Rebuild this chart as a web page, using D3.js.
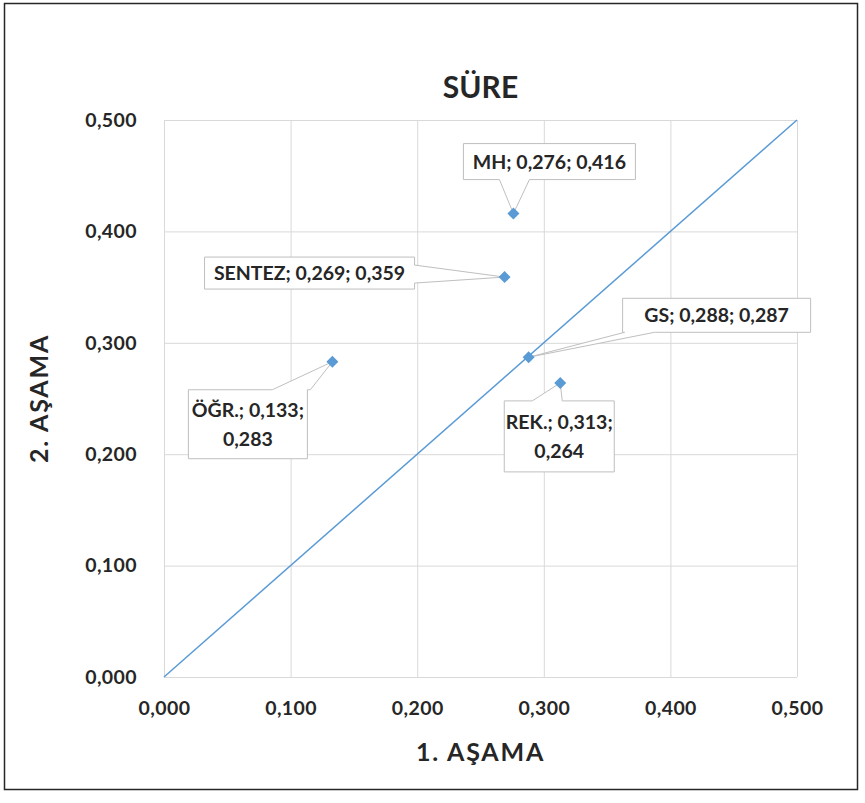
<!DOCTYPE html>
<html>
<head>
<meta charset="utf-8">
<script src="https://cdn.jsdelivr.net/npm/d3@7"></script>
<style>
  html, body { margin: 0; padding: 0; background: #fff; }
  svg { display: block; }
  text { font-family: Lato, "Open Sans", sans-serif; font-weight: 700; }
</style>
</head>
<body>
<svg id="chart" width="865" height="803"></svg>
<script>
// Series: label, 1. AŞAMA (x), 2. AŞAMA (y)
const names   = ["MH", "SENTEZ", "GS", "ÖĞR.", "REK."];
const stage1  = [0.276, 0.269, 0.288, 0.133, 0.313];
const stage2  = [0.416, 0.359, 0.287, 0.283, 0.264];

// Reference diagonal (x = y)
const diagX = [0, 0.5];
const diagY = [0, 0.5];

// Axis ticks
const tickValues = [0, 0.1, 0.2, 0.3, 0.4, 0.5];
const tickLabels = ["0,000", "0,100", "0,200", "0,300", "0,400", "0,500"];

// Text lines of each callout
const labelLines = [
  ["MH; 0,276; 0,416"],
  ["SENTEZ; 0,269; 0,359"],
  ["GS; 0,288; 0,287"],
  ["ÖĞR.; 0,133;", "0,283"],
  ["REK.; 0,313;", "0,264"]
];

// Callout placement: box offset from the point (dx, dy = box top-left), box size,
// side carrying the pointer and pointer base along that side (pixels from side start)
const callouts = [
  { dx: -50,  dy: -70, w: 172, h: 36, side: "bottom", a: 36,  b: 66 },
  { dx: -300, dy: -20, w: 210, h: 32, side: "right",  a: 8,   b: 26 },
  { dx: 94,   dy: -59, w: 188, h: 34, side: "bottom", a: 2,   b: 32 },
  { dx: -144, dy: 28,  w: 119, h: 69, side: "top",    a: 84,  b: 122 },
  { dx: -56,  dy: 18,  w: 110, h: 71, side: "top",    a: 28,  b: 58 }
];

const svg = d3.select("#chart");
const plotLeft = 164, plotRight = 797, plotTop = 120, plotBottom = 677;

// Outer frame
svg.append("rect")
  .attr("x", 4.5).attr("y", 3.5)
  .attr("width", 853).attr("height", 786)
  .attr("fill", "#fff").attr("stroke", "#262626").attr("stroke-width", 1.5);

const x = d3.scaleLinear().domain([0, 0.5]).range([plotLeft, plotRight]);
const y = d3.scaleLinear().domain([0, 0.5]).range([plotBottom, plotTop]);
const fmt = d => tickLabels[tickValues.indexOf(d)];

// Gridlines + axes
const gx = svg.append("g")
  .attr("transform", `translate(0,${plotBottom})`)
  .call(d3.axisBottom(x).tickValues(tickValues).tickFormat(fmt)
        .tickSize(-(plotBottom - plotTop)).tickPadding(24));
const gy = svg.append("g")
  .attr("transform", `translate(${plotLeft},0)`)
  .call(d3.axisLeft(y).tickValues(tickValues).tickFormat(fmt)
        .tickSize(-(plotRight - plotLeft)).tickPadding(27));

[gx, gy].forEach(g => {
  g.select(".domain").remove();
  g.selectAll(".tick line").attr("stroke", "#d9d9d9").attr("stroke-width", 1);
  g.selectAll(".tick text")
    .attr("fill", "#262626")
    .style("font-size", "19.5px")
    .style("letter-spacing", "0.4px")
    .style("font-family", "Lato, 'Open Sans', sans-serif")
    .style("font-weight", 700);
});

// Title
svg.append("text")
  .attr("x", (plotLeft + plotRight) / 2).attr("y", 98)
  .attr("text-anchor", "middle")
  .attr("fill", "#262626")
  .style("font-size", "30px")
  .text("SÜRE");

// Axis titles
svg.append("text")
  .attr("x", (plotLeft + plotRight) / 2).attr("y", 761)
  .attr("text-anchor", "middle")
  .attr("fill", "#262626")
  .style("font-size", "25px")
  .style("letter-spacing", "1.8px")
  .text("1. AŞAMA");
svg.append("text")
  .attr("transform", `translate(48,${(plotTop + plotBottom) / 2}) rotate(-90)`)
  .attr("text-anchor", "middle")
  .attr("fill", "#262626")
  .style("font-size", "25px")
  .style("letter-spacing", "1.8px")
  .text("2. AŞAMA");

// Diagonal line
const line = d3.line().x(d => x(d[0])).y(d => y(d[1]));
svg.append("path")
  .datum(d3.zip(diagX, diagY))
  .attr("d", line)
  .attr("fill", "none")
  .attr("stroke", "#5b9bd5")
  .attr("stroke-width", 1.5);

const points = names.map((n, i) => ({
  name: n, x: stage1[i], y: stage2[i], lines: labelLines[i], c: callouts[i]
}));

// Callout outline: rectangle with a pointer wedge on one side
function calloutPath(px, py, c) {
  const x0 = px + c.dx, y0 = py + c.dy, x1 = x0 + c.w, y1 = y0 + c.h;
  const pts = [];
  pts.push([x0, y0]);
  if (c.side === "top") { pts.push([x0 + c.a, y0], [px, py], [x0 + c.b, y0]); }
  pts.push([x1, y0]);
  if (c.side === "right") { pts.push([x1, y0 + c.a], [px, py], [x1, y0 + c.b]); }
  pts.push([x1, y1]);
  if (c.side === "bottom") { pts.push([x0 + c.b, y1], [px, py], [x0 + c.a, y1]); }
  pts.push([x0, y1]);
  if (c.side === "left") { pts.push([x0, y0 + c.b], [px, py], [x0, y0 + c.a]); }
  return "M" + pts.map(p => p.join(",")).join("L") + "Z";
}

const cg = svg.append("g");
points.forEach(p => {
  const px = x(p.x), py = y(p.y), c = p.c;
  cg.append("path")
    .attr("d", calloutPath(px, py, c))
    .attr("fill", "#fff")
    .attr("stroke", "#bfbfbf")
    .attr("stroke-width", 1);
  const cx = px + c.dx + c.w / 2;
  const n = p.lines.length;
  const lh = 29;
  const cy = py + c.dy + c.h / 2 - (n - 1) * lh / 2;
  p.lines.forEach((t, k) => {
    cg.append("text")
      .attr("x", cx).attr("y", cy + k * lh)
      .attr("dy", "0.36em")
      .attr("text-anchor", "middle")
      .attr("fill", "#262626")
      .style("font-size", "19.5px")
      .text(t);
  });
});

// Markers
svg.append("g").selectAll("path")
  .data(points)
  .join("path")
  .attr("transform", d => `translate(${x(d.x)},${y(d.y)}) rotate(45)`)
  .attr("d", d3.symbol(d3.symbolSquare, 72))
  .attr("fill", "#5b9bd5");
</script>
</body>
</html>
